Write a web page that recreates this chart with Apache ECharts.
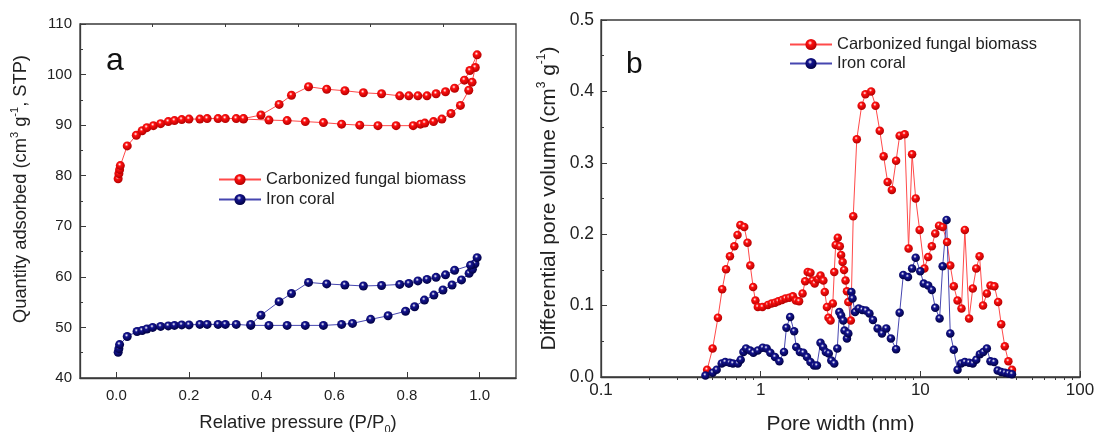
<!DOCTYPE html>
<html>
<head>
<meta charset="utf-8">
<script src="https://cdn.jsdelivr.net/npm/echarts@6/dist/echarts.min.js"></script>
<style>
  html, body { margin: 0; padding: 0; background: #fff; }
  #chart { width: 1099px; height: 432px; }
</style>
</head>
<body>
<div id="chart"></div>
<script>
const chart = echarts.init(document.getElementById("chart"));

// ==========================
// DATA
// ==========================

// (a) isotherms: adsorption branch, then desorption branch
const fungalP = [0.005, 0.007, 0.009, 0.011, 0.03, 0.055, 0.071, 0.084, 0.102, 0.122, 0.143, 0.16, 0.18, 0.20, 0.23, 0.25, 0.28, 0.30, 0.33, 0.35,
  0.42, 0.47, 0.52, 0.57, 0.62, 0.67, 0.72, 0.77, 0.817, 0.837, 0.849, 0.873, 0.896, 0.921, 0.947, 0.970, 0.979, 0.988, 0.993,
  0.973, 0.958, 0.931, 0.906, 0.880, 0.855, 0.830, 0.805, 0.780, 0.730, 0.680, 0.629, 0.579, 0.529, 0.482, 0.448, 0.398, 0.35];
const fungalQ = [79.4, 80.4, 81.2, 82.0, 85.9, 88.0, 88.9, 89.5, 89.9, 90.3, 90.7, 90.9, 91.1, 91.2, 91.2, 91.3, 91.3, 91.3, 91.3, 91.2,
  91.0, 90.9, 90.7, 90.5, 90.2, 90.0, 89.9, 89.9, 89.9, 90.2, 90.4, 90.7, 91.2, 92.3, 93.9, 96.9, 98.5, 101.4, 103.9,
  100.8, 98.9, 97.3, 96.6, 96.2, 95.8, 95.8, 95.8, 95.8, 96.2, 96.4, 96.8, 97.1, 97.6, 95.9, 94.1, 92.0, 91.3];

const coralP = [0.005, 0.007, 0.009, 0.03, 0.057, 0.071, 0.084, 0.10, 0.122, 0.143, 0.16, 0.18, 0.20, 0.23, 0.25, 0.28, 0.30, 0.33, 0.37,
  0.42, 0.47, 0.52, 0.57, 0.62, 0.65, 0.70, 0.748, 0.796, 0.821, 0.848, 0.874, 0.899, 0.924, 0.950, 0.971, 0.980, 0.987, 0.993,
  0.975, 0.931, 0.906, 0.880, 0.855, 0.830, 0.805, 0.780, 0.730, 0.680, 0.629, 0.579, 0.529, 0.482, 0.448, 0.398, 0.37];
const coralQ = [45.1, 45.8, 46.6, 48.2, 49.2, 49.4, 49.7, 50.0, 50.2, 50.3, 50.4, 50.5, 50.5, 50.6, 50.6, 50.6, 50.6, 50.6, 50.4,
  50.4, 50.4, 50.4, 50.4, 50.6, 50.8, 51.6, 52.3, 53.2, 54.1, 55.4, 56.4, 57.4, 58.4, 59.4, 60.7, 61.5, 62.6, 63.8,
  62.3, 61.3, 60.4, 59.9, 59.5, 59.2, 58.7, 58.5, 58.3, 58.2, 58.4, 58.6, 58.9, 56.7, 55.1, 52.4, 50.6];

// (b) pore size distribution
const fungalW = [0.462, 0.50, 0.54, 0.574, 0.607, 0.642, 0.684, 0.716, 0.746, 0.789, 0.827, 0.861, 0.897, 0.927, 0.96,
  1.026, 1.11, 1.17, 1.23, 1.29, 1.36, 1.43, 1.51, 1.59, 1.66, 1.74, 1.83, 1.90, 1.97, 2.05, 2.11, 2.18, 2.28, 2.37, 2.47,
  2.52, 2.60, 2.66, 2.74, 2.83, 2.89, 2.95, 3.04, 3.13, 3.19, 3.26, 3.33, 3.40, 3.47, 3.54, 3.67, 3.80, 4.00, 4.29, 4.53,
  4.92, 5.24, 5.57, 5.89, 6.24, 6.63, 7.05, 7.42, 7.98, 8.44, 8.88, 9.35, 9.90, 10.6, 11.2, 11.8, 12.4, 13.1, 13.8, 14.7,
  15.4, 16.2, 17.1, 18.1, 19.0, 20.2, 21.3, 22.4, 23.5, 24.7, 26.1, 27.5, 29.1, 30.7, 32.1, 33.8, 35.6, 37.5];
const fungalV = [0.010, 0.040, 0.083, 0.123, 0.151, 0.169, 0.183, 0.199, 0.213, 0.210, 0.188, 0.156, 0.126, 0.107, 0.098,
  0.098, 0.101, 0.103, 0.104, 0.106, 0.108, 0.110, 0.111, 0.113, 0.107, 0.106, 0.117, 0.134, 0.147, 0.146, 0.135, 0.131, 0.137, 0.142, 0.135,
  0.119, 0.098, 0.083, 0.079, 0.103, 0.147, 0.185, 0.195, 0.183, 0.171, 0.161, 0.150, 0.135, 0.120, 0.105, 0.079, 0.225, 0.333, 0.380, 0.396,
  0.400, 0.380, 0.345, 0.309, 0.273, 0.262, 0.303, 0.338, 0.340, 0.180, 0.312, 0.250, 0.206, 0.152, 0.168, 0.183, 0.201, 0.212, 0.210, 0.189,
  0.156, 0.127, 0.107, 0.096, 0.206, 0.082, 0.124, 0.152, 0.169, 0.100, 0.117, 0.128, 0.127, 0.105, 0.074, 0.043, 0.022, 0.010];

const coralW = [0.451, 0.50, 0.53, 0.57, 0.60, 0.64, 0.67, 0.72, 0.75, 0.78, 0.81, 0.86, 0.90, 0.96, 1.03, 1.09, 1.15, 1.23, 1.31,
  1.40, 1.45, 1.53, 1.62, 1.67, 1.76, 1.85, 1.95, 2.05, 2.16, 2.25, 2.37, 2.46, 2.56, 2.67, 2.77, 2.89, 3.02, 3.11, 3.19, 3.29,
  3.35, 3.47, 3.54, 3.70, 3.76, 3.90, 4.11, 4.33, 4.56, 4.80, 5.05, 5.40, 5.75, 6.12, 6.54, 7.05, 7.42, 7.82, 8.37, 8.88, 9.35,
  9.99, 10.5, 11.2, 11.8, 12.4, 13.2, 13.8, 14.6, 15.4, 16.2, 17.1, 18.0, 19.0, 20.2, 21.3, 22.4, 23.6, 24.8, 26.1, 27.5, 29.0,
  30.5, 32.1, 33.8, 35.6, 37.5];
const coralV = [0.002, 0.006, 0.010, 0.019, 0.021, 0.020, 0.019, 0.019, 0.024, 0.035, 0.040, 0.037, 0.034, 0.037, 0.041, 0.040, 0.034, 0.028, 0.022,
  0.035, 0.069, 0.084, 0.064, 0.042, 0.035, 0.034, 0.028, 0.021, 0.016, 0.016, 0.048, 0.042, 0.035, 0.033, 0.023, 0.019, 0.040, 0.091, 0.086, 0.079,
  0.065, 0.054, 0.061, 0.119, 0.110, 0.091, 0.096, 0.094, 0.093, 0.089, 0.080, 0.068, 0.061, 0.068, 0.054, 0.039, 0.090, 0.143, 0.140, 0.152, 0.167,
  0.148, 0.131, 0.128, 0.122, 0.097, 0.082, 0.155, 0.220, 0.061, 0.038, 0.010, 0.019, 0.021, 0.020, 0.019, 0.024, 0.032, 0.035, 0.040, 0.022, 0.021,
  0.009, 0.007, 0.006, 0.005, 0.004];

// tick positions
const pressureTicks = [0, 0.2, 0.4, 0.6, 0.8, 1.0];
const pressureMinor = [0.1, 0.3, 0.5, 0.7, 0.9];
const widthMinor = [0.2, 0.3, 0.4, 0.5, 0.6, 0.7, 0.8, 0.9, 2, 3, 4, 5, 6, 7, 8, 9, 20, 30, 40, 50, 60, 70, 80, 90];

// ==========================
// STYLE HELPERS
// ==========================

const FONT = "'Liberation Sans', Arial, sans-serif";
const AXIS_COLOR = "#3a3a3a";

function ball(mid, dark) {
  return {
    type: "radial", x: 0.42, y: 0.36, r: 0.65,
    colorStops: [
      { offset: 0, color: "#ffffff" },
      { offset: 0.3, color: mid },
      { offset: 1, color: dark }
    ]
  };
}

const zip = (xs, ys) => xs.map((x, i) => [x, ys[i]]);

// rich text for axis names with super/subscripts
function nameRich(size) {
  const lh = Math.round(size * 1.3);
  const small = Math.round(size * 0.58);
  return {
    a: { fontSize: size, lineHeight: lh, color: "#222", fontFamily: FONT },
    s: { fontSize: small, lineHeight: lh, verticalAlign: "top", color: "#222", fontFamily: FONT },
    b: { fontSize: small, lineHeight: lh, verticalAlign: "bottom", color: "#222", fontFamily: FONT }
  };
}

function baseAxis(extra, nameSize, namePad) {
  return Object.assign({
    axisLine: { onZero: false, lineStyle: { color: AXIS_COLOR, width: 1.3 } },
    axisTick: { inside: true, length: 6, lineStyle: { color: AXIS_COLOR } },
    minorTick: { show: false },
    splitLine: { show: false },
    axisLabel: { color: "#222", fontSize: 15, fontFamily: FONT, margin: 8 },
    nameLocation: "middle",
    nameTextStyle: { rich: nameRich(nameSize || 18), padding: namePad || 0 }
  }, extra);
}

function lineSeries(name, data, xi, yi, size, lineColor, mid, dark) {
  return {
    name, type: "line", data,
    xAxisIndex: xi, yAxisIndex: yi,
    symbol: "circle", symbolSize: size,
    lineStyle: { color: lineColor, width: 1 },
    itemStyle: { color: ball(mid, dark) },
    emphasis: { disabled: true },
    animation: false
  };
}

const legendText = { color: "#222", fontSize: 16.5, fontFamily: FONT };

// ==========================
// OPTION
// ==========================

chart.setOption({
  backgroundColor: "#fff",
  textStyle: { fontFamily: FONT },
  grid: [
    { left: 80, top: 24, width: 436, height: 354, outerBoundsMode: "none", containLabel: false,
      show: true, borderColor: AXIS_COLOR, borderWidth: 1.3 },
    { left: 601, top: 20, width: 479, height: 357, outerBoundsMode: "none", containLabel: false,
      show: true, borderColor: AXIS_COLOR, borderWidth: 1.3 }
  ],
  legend: [
    {
      orient: "vertical", left: 213, top: 166, itemWidth: 42, itemHeight: 14, itemGap: 3,
      textStyle: legendText,
      data: ["Carbonized fungal biomass", "Iron coral"]
    },
    {
      orient: "vertical", left: 784, top: 31, itemWidth: 42, itemHeight: 14, itemGap: 2,
      textStyle: legendText,
      data: ["Carbonized fungal biomass", "Iron coral"]
    }
  ],
  xAxis: [
    baseAxis({
      type: "value", gridIndex: 0, min: -0.1, max: 1.1,
      axisTick: { inside: true, length: 6, customValues: pressureTicks, lineStyle: { color: AXIS_COLOR } },
      axisLabel: { customValues: pressureTicks, formatter: v => v.toFixed(1), color: "#222", fontSize: 15, fontFamily: FONT, margin: 10 },
      name: "{a|Relative pressure (P/P}{b|0}{a|)}",
      nameGap: 33
    }, 18.5),
    baseAxis({
      type: "value", gridIndex: 0, min: -0.1, max: 1.1,
      axisLine: { show: false },
      axisTick: { inside: true, length: 3, customValues: pressureMinor, lineStyle: { color: AXIS_COLOR } },
      axisLabel: { show: false }
    }),
    baseAxis({
      type: "log", logBase: 10, gridIndex: 1, min: 0.1, max: 100,
      axisLabel: { color: "#222", fontSize: 17, fontFamily: FONT, margin: 5 },
      name: "{a|Pore width (nm)}",
      nameGap: 34
    }, 21),
    baseAxis({
      type: "log", logBase: 10, gridIndex: 1, min: 0.1, max: 100,
      axisLine: { show: false },
      axisTick: { inside: true, length: 3, customValues: widthMinor, lineStyle: { color: AXIS_COLOR } },
      axisLabel: { show: false }
    })
  ],
  yAxis: [
    baseAxis({
      type: "value", gridIndex: 0, min: 40, max: 110, interval: 10,
      minorTick: { show: true, splitNumber: 2, length: 3, lineStyle: { color: AXIS_COLOR } },
      name: "{a|Quantity adsorbed (cm}{s|3}{a| g}{s|-1}{a|, STP)}",
      nameGap: 47
    }, 18.3, [0, 0, 0, 24]),
    baseAxis({
      type: "value", gridIndex: 1, min: 0, max: 0.5, interval: 0.1,
      minorTick: { show: true, splitNumber: 2, length: 3, lineStyle: { color: AXIS_COLOR } },
      axisLabel: { formatter: v => v.toFixed(1), color: "#222", fontSize: 17.5, fontFamily: FONT, margin: 7 },
      name: "{a|Differential pore volume (cm}{s|3}{a| g}{s|-1}{a|)}",
      nameGap: 38
    }, 21)
  ],
  graphic: [
    { type: "text", left: 106, top: 45, style: { text: "a", fontSize: 32, fontFamily: FONT, fill: "#111" } },
    { type: "text", left: 626, top: 50, style: { text: "b", fontSize: 30, fontFamily: FONT, fill: "#111" } }
  ],
  series: [
    lineSeries("Carbonized fungal biomass", zip(fungalP, fungalQ), 0, 0, 9, "#ff4a4a", "#ff1010", "#b00000"),
    lineSeries("Iron coral", zip(coralP, coralQ), 0, 0, 9, "#4646b0", "#14148f", "#000040"),
    lineSeries("Carbonized fungal biomass", zip(fungalW, fungalV), 2, 1, 8.5, "#ff4a4a", "#ff1010", "#b00000"),
    lineSeries("Iron coral", zip(coralW, coralV), 2, 1, 8.5, "#4646b0", "#14148f", "#000040")
  ]
});
</script>
</body>
</html>
